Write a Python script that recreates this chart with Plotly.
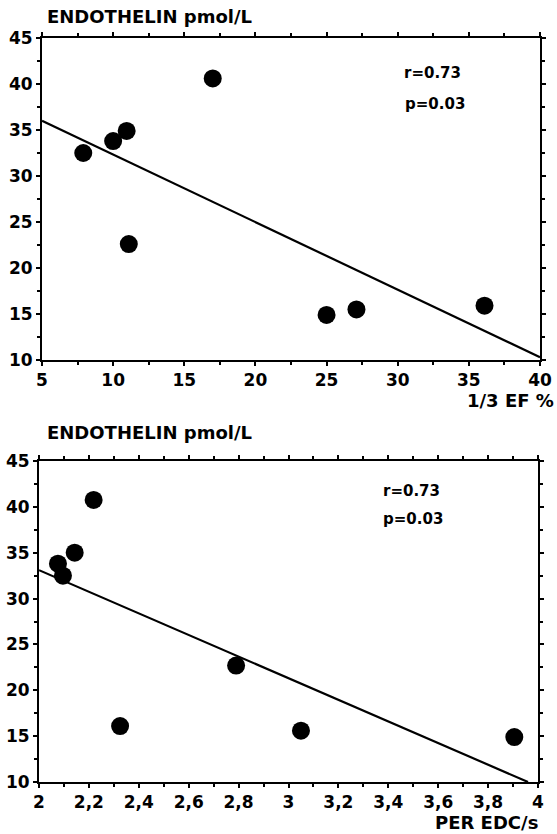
import plotly.graph_objects as go

# Top panel: 1/3 EF % vs Endothelin
ef_x = [7.9, 10.0, 10.95, 17.0, 11.1, 25.0, 27.1, 36.1]
ef_y = [32.5, 33.8, 34.9, 40.6, 22.6, 14.9, 15.5, 15.9]
ef_line_x = [5, 40]
ef_line_y = [36.0, 10.3]

# Bottom panel: PER EDC/s vs Endothelin
per_x = [2.076, 2.096, 2.143, 2.219, 2.325, 2.79, 3.05, 3.905]
per_y = [33.8, 32.5, 35.0, 40.75, 16.1, 22.7, 15.6, 14.9]
per_line_x = [2.0, 3.96]
per_line_y = [33.1, 10.0]

y_ticks = [10, 15, 20, 25, 30, 35, 40, 45]
ef_ticks = [5, 10, 15, 20, 25, 30, 35, 40]
per_ticks = [2.0, 2.2, 2.4, 2.6, 2.8, 3.0, 3.2, 3.4, 3.6, 3.8, 4.0]
per_ticktext = ["2", "2,2", "2,4", "2,6", "2,8", "3", "3,2", "3,4", "3,6", "3,8", "4"]

FONT = "DejaVu Sans"
W, H = 557, 834

fig = go.Figure()
fig.add_trace(go.Scatter(x=ef_line_x, y=ef_line_y, mode="lines",
                         line=dict(color="black", width=2.2), xaxis="x", yaxis="y",
                         showlegend=False, hoverinfo="skip"))
fig.add_trace(go.Scatter(x=ef_x, y=ef_y, mode="markers",
                         marker=dict(color="black", size=18), xaxis="x", yaxis="y",
                         showlegend=False))
fig.add_trace(go.Scatter(x=per_line_x, y=per_line_y, mode="lines",
                         line=dict(color="black", width=2.2), xaxis="x2", yaxis="y2",
                         showlegend=False, hoverinfo="skip"))
fig.add_trace(go.Scatter(x=per_x, y=per_y, mode="markers",
                         marker=dict(color="black", size=18), xaxis="x2", yaxis="y2",
                         showlegend=False))

tickfont = dict(family=FONT, size=17, color="black", weight="bold")
common = dict(showline=True, linecolor="black", linewidth=2, mirror="ticks",
              ticks="outside", ticklen=4, tickwidth=1.5, tickcolor="black",
              showgrid=False, zeroline=False, tickfont=tickfont, automargin=False)

def px_x(a, b):
    return [a / W, b / W]

def px_y(top, bottom):
    return [(H - bottom) / H, (H - top) / H]

fig.update_layout(
    width=W, height=H,
    margin=dict(l=0, r=0, t=0, b=0),
    paper_bgcolor="white", plot_bgcolor="white",
    xaxis=dict(domain=px_x(42, 540), range=[5, 40], tickvals=ef_ticks,
               minor=dict(dtick=2.5, ticks="outside", ticklen=3, tickcolor="black"),
               anchor="y", **common),
    yaxis=dict(domain=px_y(38, 360), range=[10, 45], tickvals=y_ticks,
               minor=dict(dtick=2.5, ticks="outside", ticklen=3, tickcolor="black"),
               anchor="x", ticklabelstandoff=0, **common),
    xaxis2=dict(domain=px_x(39, 538), range=[2, 4], tickvals=per_ticks, ticktext=per_ticktext,
                minor=dict(dtick=0.1, ticks="outside", ticklen=3, tickcolor="black"),
                anchor="y2", **common),
    yaxis2=dict(domain=px_y(461, 782), range=[10, 45], tickvals=y_ticks,
                minor=dict(dtick=2.5, ticks="outside", ticklen=3, tickcolor="black"),
                anchor="x2", ticklabelstandoff=0, **common),
)

txt = dict(family=FONT, size=18, color="black", weight="bold")
ann_font = dict(family=FONT, size=15, color="black", weight="bold")
annotations = [
    dict(text="ENDOTHELIN pmol/L", x=45 / W, y=(H - 17) / H, xref="paper", yref="paper",
         xanchor="left", yanchor="middle", showarrow=False, font=txt),
    dict(text="ENDOTHELIN pmol/L", x=45 / W, y=(H - 432) / H, xref="paper", yref="paper",
         xanchor="left", yanchor="middle", showarrow=False, font=txt),
    dict(text="1/3 EF %", x=556 / W, y=(H - 400) / H, xref="paper", yref="paper",
         xanchor="right", yanchor="middle", showarrow=False, font=txt),
    dict(text="PER EDC/s", x=540 / W, y=(H - 822) / H, xref="paper", yref="paper",
         xanchor="right", yanchor="middle", showarrow=False, font=txt),
    dict(text="r=0.73", x=30.3, y=41.2, xref="x", yref="y", xanchor="left",
         yanchor="middle", showarrow=False, font=ann_font),
    dict(text="p=0.03", x=30.4, y=37.8, xref="x", yref="y", xanchor="left",
         yanchor="middle", showarrow=False, font=ann_font),
    dict(text="r=0.73", x=3.37, y=41.7, xref="x2", yref="y2", xanchor="left",
         yanchor="middle", showarrow=False, font=ann_font),
    dict(text="p=0.03", x=3.37, y=38.7, xref="x2", yref="y2", xanchor="left",
         yanchor="middle", showarrow=False, font=ann_font),
]
fig.update_layout(annotations=annotations)

fig.write_html("out.html",
               config={"displayModeBar": False},
               post_script="document.body.style.margin='0';document.body.style.padding='0';")
